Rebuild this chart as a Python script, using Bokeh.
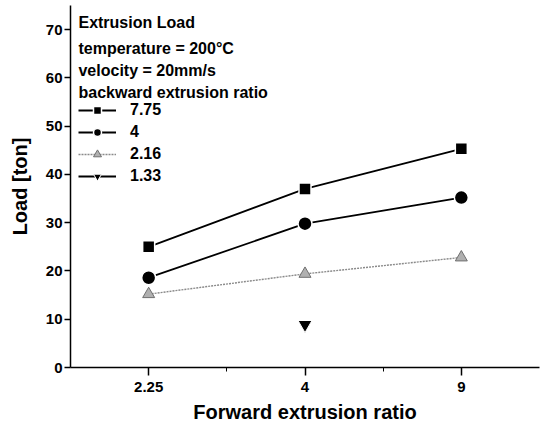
from bokeh.plotting import figure
from bokeh.models import Range1d, FixedTicker, Legend, LegendItem, Label
from bokeh.embed import file_html
from bokeh.resources import INLINE

# ---- data ----
forward_ratio_labels = ["2.25", "4", "9"]
load_775 = [25.0, 37.0, 45.3]
load_4 = [18.6, 29.8, 35.2]
load_216 = [15.2, 19.4, 22.8]
load_133_x_label = "4"
load_133 = [8.9]
y_ticks = [0, 10, 20, 30, 40, 50, 60, 70]
header_lines = ["Extrusion Load", "temperature = 200\u00b0C", "velocity = 20mm/s",
                " backward extrusion ratio"]

x_pos = list(range(1, len(forward_ratio_labels) + 1))
x_133 = [forward_ratio_labels.index(load_133_x_label) + 1]

FONT = "Liberation Sans"

p = figure(width=540, height=434, output_backend="svg", toolbar_location=None,
           x_range=Range1d(0.5, 3.5), y_range=Range1d(0, 75),
           min_border_left=70, min_border_right=1, min_border_top=5, min_border_bottom=67)
p.outline_line_color = None
p.xgrid.visible = False
p.ygrid.visible = False

# axes styling
p.xaxis.ticker = FixedTicker(ticks=x_pos, minor_ticks=[1.5, 2.5])
p.xaxis.major_label_overrides = {x: l for x, l in zip(x_pos, forward_ratio_labels)}
p.yaxis.ticker = FixedTicker(ticks=y_ticks)
for ax in (p.xaxis[0], p.yaxis[0]):
    ax.axis_line_color = "black"
    ax.axis_line_width = 1.5
    ax.major_tick_line_color = "black"
    ax.major_tick_line_width = 1.5
    ax.major_tick_in = 0
    ax.minor_tick_in = 0
    ax.major_label_text_font = FONT
    ax.major_label_text_font_style = "bold"
    ax.major_label_text_font_size = "15px"
    ax.major_label_text_color = "black"
    ax.axis_label_text_font = FONT
    ax.axis_label_text_font_style = "bold"
    ax.axis_label_text_font_size = "20px"
    ax.axis_label_text_color = "black"
p.xaxis.major_tick_out = 8
p.xaxis.minor_tick_out = 4
p.xaxis.minor_tick_line_color = "black"
p.yaxis.major_tick_out = 6
p.yaxis.minor_tick_line_color = None
p.xaxis.major_label_standoff = 6
p.yaxis.major_label_standoff = 2
p.xaxis.axis_label = "Forward extrusion ratio"
p.yaxis.axis_label = "Load [ton]"
p.xaxis.axis_label_standoff = 6
p.yaxis.axis_label_standoff = 12

# series
l1 = p.line(x_pos, load_775, line_color="black", line_width=1.8)
m1 = p.scatter(x_pos, load_775, marker="square", size=12, fill_color="black",
               line_color="white", line_width=1.5)
l2 = p.line(x_pos, load_4, line_color="black", line_width=1.8)
m2 = p.scatter(x_pos, load_4, marker="circle", size=14, fill_color="black",
               line_color="white", line_width=1.5)
l3 = p.line(x_pos, load_216, line_color="#8a8a8a", line_width=1.4, line_dash="2 1")
m3 = p.scatter(x_pos, load_216, marker="triangle", size=12, fill_color="#b0b0b0",
               line_color="#707070", line_width=1)
l4 = p.line(x_133, load_133, line_color="black", line_width=1.8)
m4 = p.scatter(x_133, load_133, marker="inverted_triangle", size=14, fill_color="black",
               line_color="white", line_width=1)

legend = Legend(items=[
    LegendItem(label="7.75", renderers=[l1, m1]),
    LegendItem(label="4", renderers=[l2, m2]),
    LegendItem(label="2.16", renderers=[l3, m3]),
    LegendItem(label="1.33", renderers=[l4, m4]),
], location=(8, 181), glyph_width=38, glyph_height=20, label_height=20,
    spacing=2, padding=0, margin=0, label_standoff=14,
    border_line_color=None, background_fill_alpha=0,
    label_text_font=FONT, label_text_font_style="bold", label_text_font_size="16px",
    label_text_color="black")
p.add_layout(legend, "center")

header_y = [71.5, 66.1, 61.5, 57.0]
for txt, yy in zip(header_lines, header_y):
    p.add_layout(Label(x=0.551, y=yy, text=txt, text_font=FONT, text_font_style="bold",
                       text_font_size="16px", text_baseline="middle", text_color="black"))

open("out.html", "w").write(file_html(p, INLINE))
